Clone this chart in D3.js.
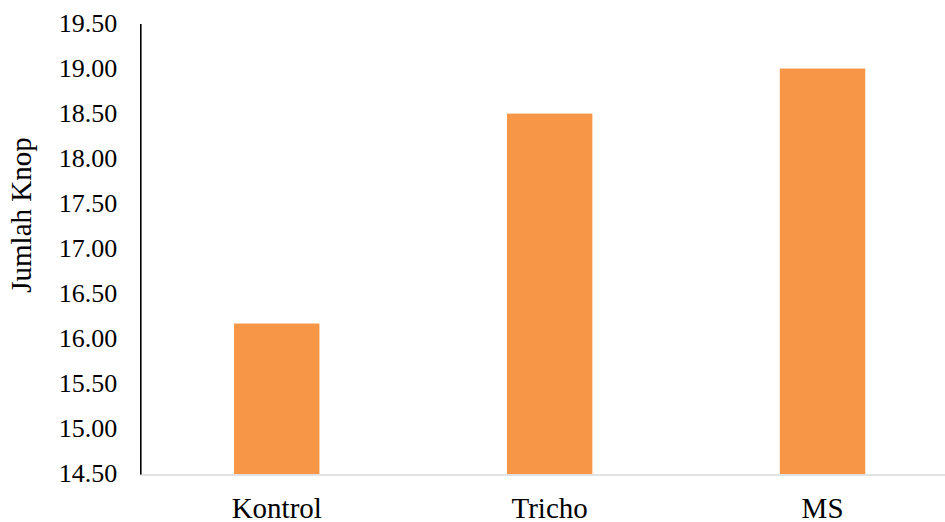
<!DOCTYPE html>
<html>
<head>
<meta charset="utf-8">
<script src="https://cdn.jsdelivr.net/npm/d3@7"></script>
<style>
  html, body { margin: 0; padding: 0; background: #fff; }
  svg { display: block; }
  text { font-family: "Liberation Serif", "Times New Roman", serif; fill: #000; }
</style>
</head>
<body>
<svg id="chart" width="945" height="522"></svg>
<script>
// Mean number of buds per treatment
const categories = ["Kontrol", "Tricho", "MS"];
const values = [16.17, 18.50, 19.00];
const yTicks = [14.5, 15, 15.5, 16, 16.5, 17, 17.5, 18, 18.5, 19, 19.5];
const yTitle = "Jumlah Knop";

const svg = d3.select("#chart");
const plotLeft = 140.3, plotRight = 959, plotTop = 23.5, plotBottom = 474;
const serif = "'Liberation Serif', 'Times New Roman', serif";

const x = d3.scaleBand()
  .domain(categories)
  .range([plotLeft, plotRight])
  .paddingInner(0.687)
  .paddingOuter(0.3435);

const y = d3.scaleLinear()
  .domain([14.5, 19.5])
  .range([plotBottom, plotTop]);

// bars
svg.append("g")
  .selectAll("rect")
  .data(values)
  .join("rect")
  .attr("x", (d, i) => x(categories[i]))
  .attr("y", d => y(d))
  .attr("width", x.bandwidth())
  .attr("height", d => y(14.5) - y(d))
  .attr("fill", "#F79646");

// category axis
const xAxis = svg.append("g")
  .attr("transform", `translate(0,${plotBottom + 1})`)
  .call(d3.axisBottom(x).tickSize(0).tickPadding(0))
  .attr("font-family", serif)
  .attr("font-size", 29);
xAxis.select(".domain")
  .attr("d", `M${plotLeft},0H945`)
  .attr("stroke", "#d9d9d9")
  .attr("stroke-width", 1.6);
xAxis.selectAll("text")
  .attr("y", 42.5)
  .attr("dy", 0);

// value axis
const yAxis = svg.append("g")
  .attr("transform", `translate(${plotLeft},0)`)
  .call(d3.axisLeft(y).tickValues(yTicks).tickFormat(d3.format(".2f")).tickSize(0).tickPadding(23))
  .attr("font-family", serif)
  .attr("font-size", 26);
yAxis.select(".domain")
  .attr("stroke", "#000")
  .attr("stroke-width", 1.6);
yAxis.selectAll("text")
  .attr("dy", "0.3em");

// axis title
svg.append("text")
  .attr("transform", "translate(31,215) rotate(-90)")
  .attr("text-anchor", "middle")
  .attr("font-family", serif)
  .attr("font-size", 29)
  .text(yTitle);
</script>
</body>
</html>
